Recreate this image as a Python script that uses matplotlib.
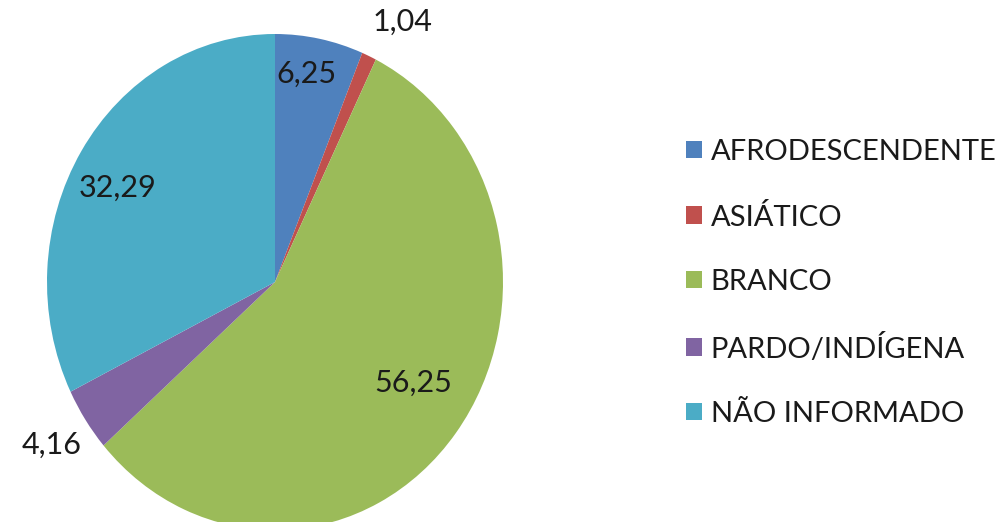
import numpy as np
import matplotlib
matplotlib.use("Agg")
import matplotlib.pyplot as plt

categories = ["AFRODESCENDENTE", "ASIÁTICO", "BRANCO", "PARDO/INDÍGENA", "NÃO INFORMADO"]
values = [6.25, 1.04, 56.25, 4.16, 32.29]
value_labels = ["6,25", "1,04", "56,25", "4,16", "32,29"]
colors = ["#4F81BD", "#C0504D", "#9BBB59", "#8064A2", "#4BACC6"]
label_dist = [0.85, 1.19, 0.73, 1.18, 0.79]
label_turn = [-2.0, 3.6, -3.8, 0.0, -3.0]   # small angular nudges (deg, clockwise)

W, H = 1003, 522
fig = plt.figure(figsize=(W / 100, H / 100), dpi=100)
ax = fig.add_axes([0, 0, 1, 1])

# pie is slightly stretched vertically in the reference (ellipse)
rx, ry = 228.0, 248.0
cx, cy = 275 / rx, (H - 282) / ry
font = ["Lato", "DejaVu Sans"]

wedges, _ = ax.pie(values, colors=colors, startangle=90, counterclock=False,
                   center=(cx, cy), radius=1.0, frame=True,
                   wedgeprops=dict(linewidth=0))
ax.set_aspect("auto")
ax.set_xlim(0, W / rx)
ax.set_ylim(0, H / ry)
ax.axis("off")

for w, lab, d, t in zip(wedges, value_labels, label_dist, label_turn):
    ang = np.deg2rad((w.theta1 + w.theta2) / 2 - t)
    ax.text(cx + d * np.cos(ang), cy + d * np.sin(ang), lab,
            ha="center", va="center", fontsize=22, family=font, color="#1a1a1a")

leg = ax.legend(wedges, categories, loc="upper left", bbox_to_anchor=(686 / W, 1 - 139 / H),
                frameon=False, handlelength=0.55, handleheight=0.55, handletextpad=0.3,
                labelspacing=1.32, borderaxespad=0, borderpad=0,
                prop=dict(family=font, size=21))
for t in leg.get_texts():
    t.set_color("#1a1a1a")

fig.savefig("out.png", dpi=100)
